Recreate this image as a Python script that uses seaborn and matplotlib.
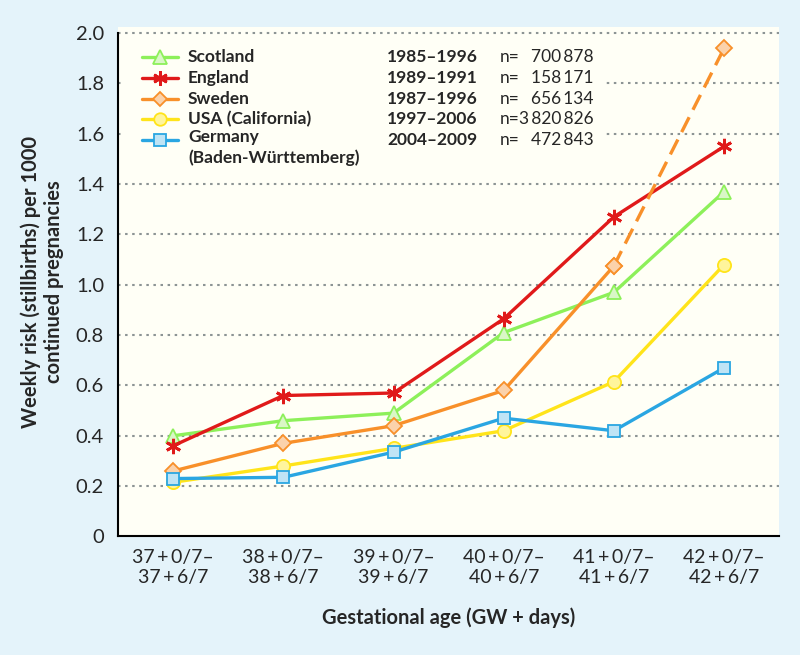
import matplotlib
matplotlib.use("Agg")
import matplotlib.pyplot as plt
from matplotlib.patches import Rectangle
from matplotlib.ticker import FuncFormatter
import seaborn as sns
import numpy as np

# Data
weeks = ["37", "38", "39", "40", "41", "42"]
scotland = [0.40, 0.46, 0.49, 0.81, 0.97, 1.37]
england = [0.36, 0.56, 0.57, 0.865, 1.27, 1.55]
sweden = [0.26, 0.37, 0.44, 0.58, 1.075, 1.94]
usa = [0.215, 0.28, 0.35, 0.42, 0.615, 1.08]
germany = [0.23, 0.235, 0.335, 0.47, 0.42, 0.67]

names = ["Scotland", "England", "Sweden", "USA (California)", "Germany\n(Baden-Württemberg)"]
periods = ["1985–1996", "1989–1991", "1987–1996", "1997–2006", "2004–2009"]
counts = ["700\u2009878", "158\u2009171", "656\u2009134", "3\u2009820\u2009826", "472\u2009843"]

# styles: line colour, marker, marker face, marker size
styles = {
    "Scotland": ("#8df05a", "^", "#d9f7c6", 10.5),
    "England": ("#e01a1a", (6, 2, 0), "#e01a1a", 11),
    "Sweden": ("#f8902a", "D", "#fbd2ab", 8),
    "USA (California)": ("#ffe41a", "o", "#fff59c", 9.5),
    "Germany\n(Baden-Württemberg)": ("#2aa6e2", "s", "#bfe4f5", 9),
}
series = [scotland, england, sweden, usa, germany]

sns.set_style("white")
plt.rcParams["font.family"] = ["Lato", "DejaVu Sans"]

fig = plt.figure(figsize=(8, 6.55), dpi=100, facecolor="#e4f3fa")
ax = fig.add_axes([0.1475, 0.181, 0.8265, 0.778])
ax.set_facecolor("#fffff6")

x = np.arange(len(weeks))

# draw order: Germany at bottom, England on top
for i in [4, 3, 2, 0, 1]:
    name = names[i]
    color, marker, face, ms = styles[name]
    vals = series[i]
    mew = 2 if i == 1 else 1.3
    if name == "Sweden":
        sns.lineplot(x=x[:5], y=vals[:5], ax=ax, color=color, lw=2.4, marker=marker,
                     markersize=ms, markerfacecolor=face, markeredgecolor=color,
                     markeredgewidth=mew, zorder=3 + i * 0.1)
        sns.lineplot(x=x[4:], y=vals[4:], ax=ax, color=color, lw=2.4, linestyle=(0, (5, 2.5)),
                     marker=marker, markersize=ms, markerfacecolor=face, markeredgecolor=color,
                     markeredgewidth=mew, zorder=3 + i * 0.1)
    else:
        sns.lineplot(x=x, y=vals, ax=ax, color=color, lw=2.4, marker=marker,
                     markersize=ms, markerfacecolor=face, markeredgecolor=color,
                     markeredgewidth=mew, zorder=3 + i * 0.1)

# axes limits, ticks
ax.set_xlim(-0.5, 5.5)
ax.set_ylim(0, 2.025)
ax.set_yticks(np.arange(0, 2.01, 0.2))
ax.yaxis.set_major_formatter(FuncFormatter(lambda v, p: "0" if abs(v) < 1e-9 else f"{v:.1f}"))
ax.set_xticks(np.arange(-0.5, 6, 1))
ax.set_xticklabels([])
ax.set_xticks(x, minor=True)
ax.set_xticklabels([f"{w}\u2009+\u20090/7–\n{w}\u2009+\u20096/7" for w in weeks], minor=True,
                   fontsize=14, linespacing=1.2)
ax.tick_params(axis="x", which="major", direction="out", length=6, width=1.5, color="black")
ax.tick_params(axis="x", which="minor", length=0, pad=9)
ax.tick_params(axis="y", direction="out", length=6.5, width=1.5, color="black",
               labelsize=14.5, pad=3.5)

for s in ["top", "right"]:
    ax.spines[s].set_visible(False)
for s in ["left", "bottom"]:
    ax.spines[s].set_color("black")
    ax.spines[s].set_linewidth(1.5)
ax.spines["left"].set_bounds(0, 2.0)

ax.grid(axis="y", color="#8c9494", linestyle=(0, (1.2, 2.2)), linewidth=1.5)
ax.set_axisbelow(True)
ax.get_ygridlines()[0].set_visible(False)

ax.set_ylabel("Weekly risk (stillbirths) per 1000\ncontinued pregnancies",
              fontsize=14.5, fontweight="bold", linespacing=1.15)
ax.yaxis.set_label_coords(-0.082, 0.5)
ax.set_xlabel("Gestational age (GW + days)", fontsize=14.5, fontweight="bold")
ax.xaxis.set_label_coords(0.5, -0.14)

# legend block (covers the gridlines behind it)
ax.add_patch(Rectangle((0.004, 0.715), 0.731, 0.258, transform=ax.transAxes,
                       facecolor="#fffff6", edgecolor="none", zorder=2))
row_y = [0.9418, 0.9006, 0.8594, 0.8182, 0.7770]
for i, name in enumerate(names):
    color, marker, face, ms = styles[name]
    ry = row_y[i]
    mew = 2 if i == 1 else 1.3
    ax.plot([0.036, 0.091], [ry, ry], transform=ax.transAxes, color=color, lw=2.4, zorder=4)
    ax.plot([0.0635], [ry], transform=ax.transAxes, marker=marker, markersize=ms * 0.95,
            markerfacecolor=face, markeredgecolor=color, markeredgewidth=mew, zorder=5)
    if "\n" in name:
        ax.text(0.106, ry + 0.022, name, transform=ax.transAxes, fontsize=12.5,
                fontweight="bold", va="top", ha="left", zorder=6, linespacing=1.3)
    else:
        ax.text(0.106, ry, name, transform=ax.transAxes, fontsize=12.5,
                fontweight="bold", va="center", ha="left", zorder=6)
    ax.text(0.407, ry, periods[i], transform=ax.transAxes, fontsize=12.5, fontweight="bold",
            va="center", ha="left", zorder=6)
    ax.text(0.578, ry, "n=", transform=ax.transAxes, fontsize=12.5,
            va="center", ha="left", zorder=6)
    ax.text(0.719, ry, counts[i], transform=ax.transAxes, fontsize=12.5,
            va="center", ha="right", zorder=6)

fig.savefig("out.png", dpi=100, facecolor=fig.get_facecolor())
